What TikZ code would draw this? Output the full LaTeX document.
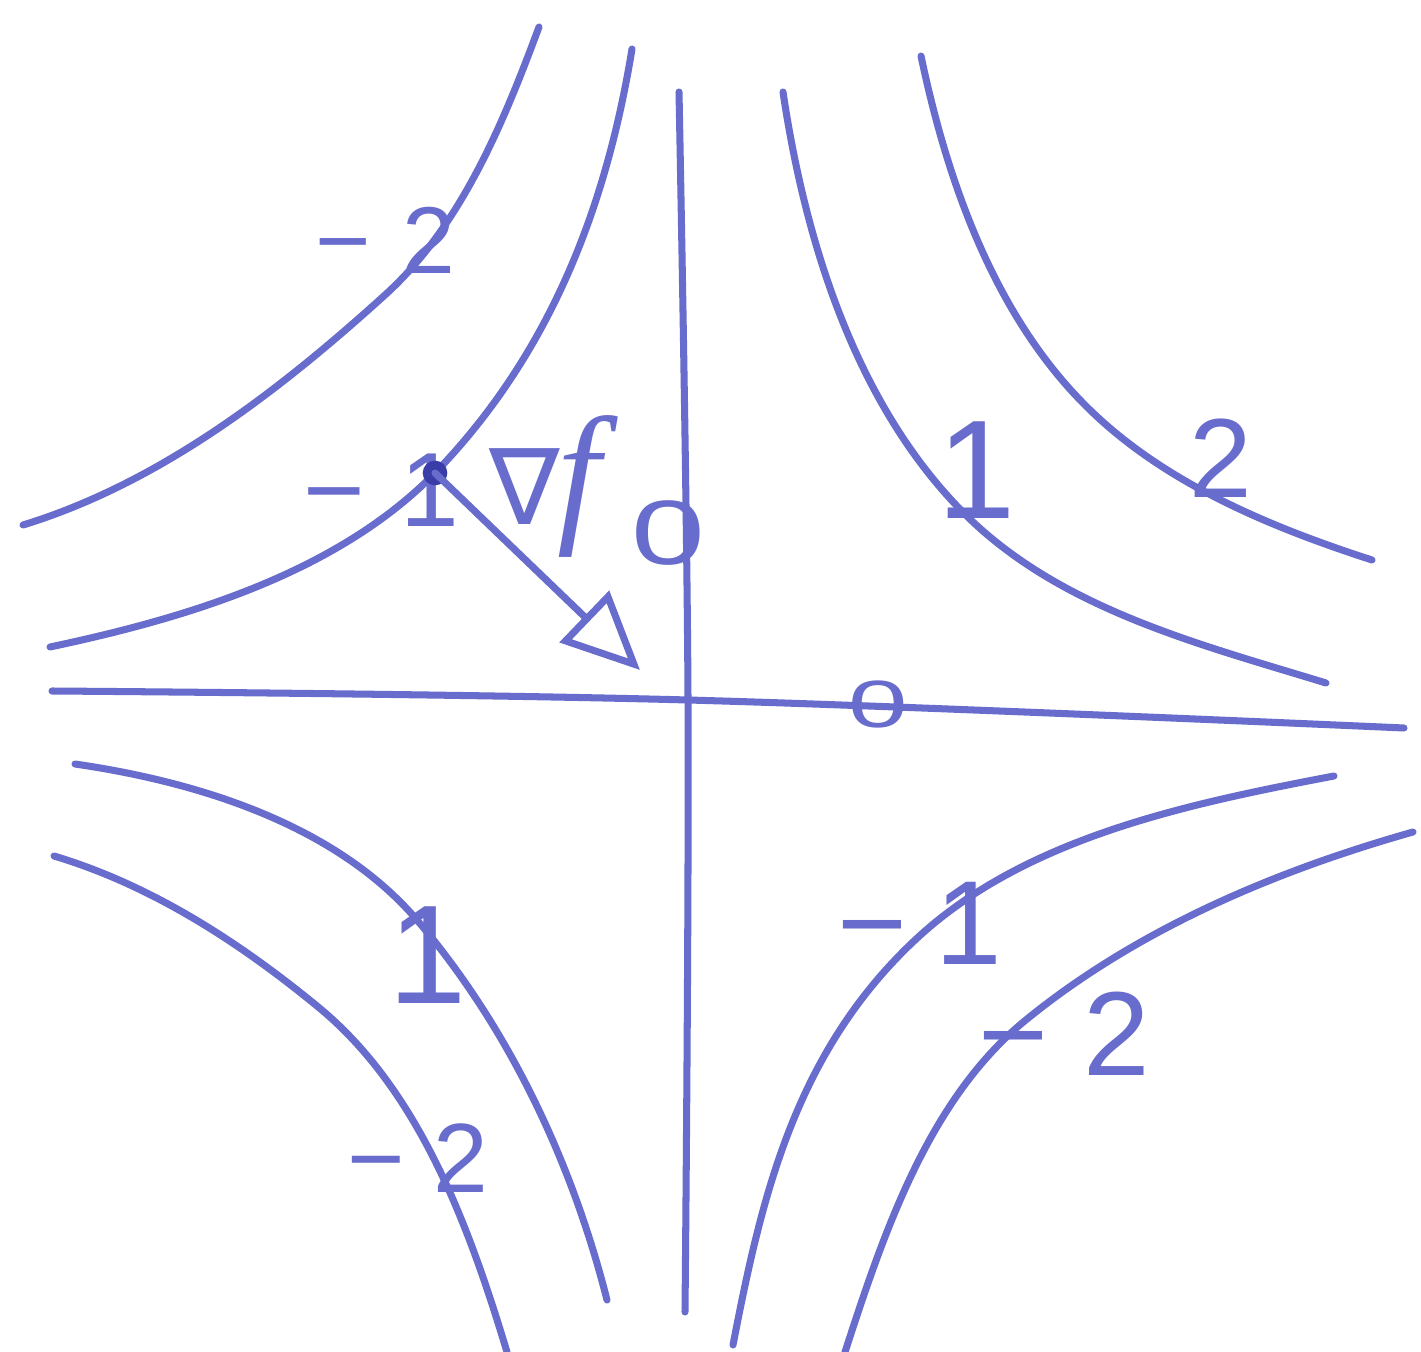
\documentclass[tikz,border=0pt]{standalone}
\usepackage{fontspec}
\setmainfont{Liberation Sans}
\newfontfamily\djv{DejaVu Sans}
\newfontfamily\lserif{Liberation Serif}
\usetikzlibrary{arrows.meta}
\definecolor{ink}{RGB}{104,108,204}
\definecolor{inkdark}{RGB}{58,60,168}
\begin{document}
\begin{tikzpicture}[x=0.01cm,y=-0.01cm,line cap=round,line join=round,
  curve/.style={draw=ink,line width=2pt},
  lbl/.style={text=ink,inner sep=0pt,font=\fontsize{#1}{#1}\selectfont}]
\fill[white] (0,0) rectangle (1421,1352);
\path[use as bounding box] (0,0) rectangle (1421,1352);
% axes
\draw[curve] plot[smooth,tension=0.6] coordinates {(679,92) (688,699) (685,1312)};
\draw[curve] plot[smooth,tension=0.6] coordinates {(52,691) (688,700) (1404,728)};
% upper left
\draw[curve] (23,525) .. controls (160,483) and (279,391) .. (385,295)
                      .. controls (461,226) and (503,124) .. (539,27);
\draw[curve] (50,647) .. controls (187,618) and (337,573) .. (435,473)
                      .. controls (553,351) and (607,202) .. (632,49);
% upper right
\draw[curve] (783,92) .. controls (806,247) and (859,414) .. (973,522)
                      .. controls (1068,611) and (1202,645) .. (1326,683);
\draw[curve] (921,56) .. controls (947,180) and (993,311) .. (1082,402)
                      .. controls (1159,481) and (1267,526) .. (1372,560);
% lower right
\draw[curve] (1334,776) .. controls (1187,804) and (1023,838) .. (914,941)
                        .. controls (794,1054) and (761,1200) .. (733,1345);
\draw[curve] (1413,832) .. controls (1275,871) and (1138,929) .. (1027,1019)
                        .. controls (929,1098) and (884,1232) .. (845,1352);
% lower left
\draw[curve] (75,764) .. controls (199,782) and (336,825) .. (417,920)
                      .. controls (509,1028) and (572,1162) .. (607,1300);
\draw[curve] (54,856) .. controls (151,885) and (239,942) .. (317,1006)
                      .. controls (419,1089) and (469,1226) .. (507,1352);
% labels
\node[lbl=27] (m2a) at (385,240) {−\kern9pt2};
\node[lbl=30] (m1a) at (381,490) {−\kern10pt1};
\node[lbl=40] (p1a) at (977,470) {1};
\node[lbl=32] (p2a) at (1221,458) {2};
\node[lbl=34] (m1b) at (920,923) {−\kern8pt1};
\node[lbl=34] (m2b) at (1064,1034) {−\kern10pt2};
\node[lbl=40] (p1b) at (428,955) {1};
\node[lbl=28] (m2c) at (418,1158) {−\kern8pt2};
\node[lbl=30] (grad) at (545,486) {{\djv ∇}\kern-1pt{\lserif\itshape\fontsize{44}{44}\selectfont f}};
\node[lbl=26] (z1) at (668,533) {\scalebox{1.45}[1]{0}};
\node[lbl=19] (z2) at (878,704) {\scalebox{1.6}[1]{0}};
% gradient vector
\node[circle,fill=inkdark,inner sep=0pt,minimum size=7pt] (pt) at (435,473) {};
\coordinate (tip) at (640,670);
\draw[curve,-{Triangle[open,length=22pt,width=20pt]}] (pt.center) -- (tip);
\end{tikzpicture}
\end{document}
